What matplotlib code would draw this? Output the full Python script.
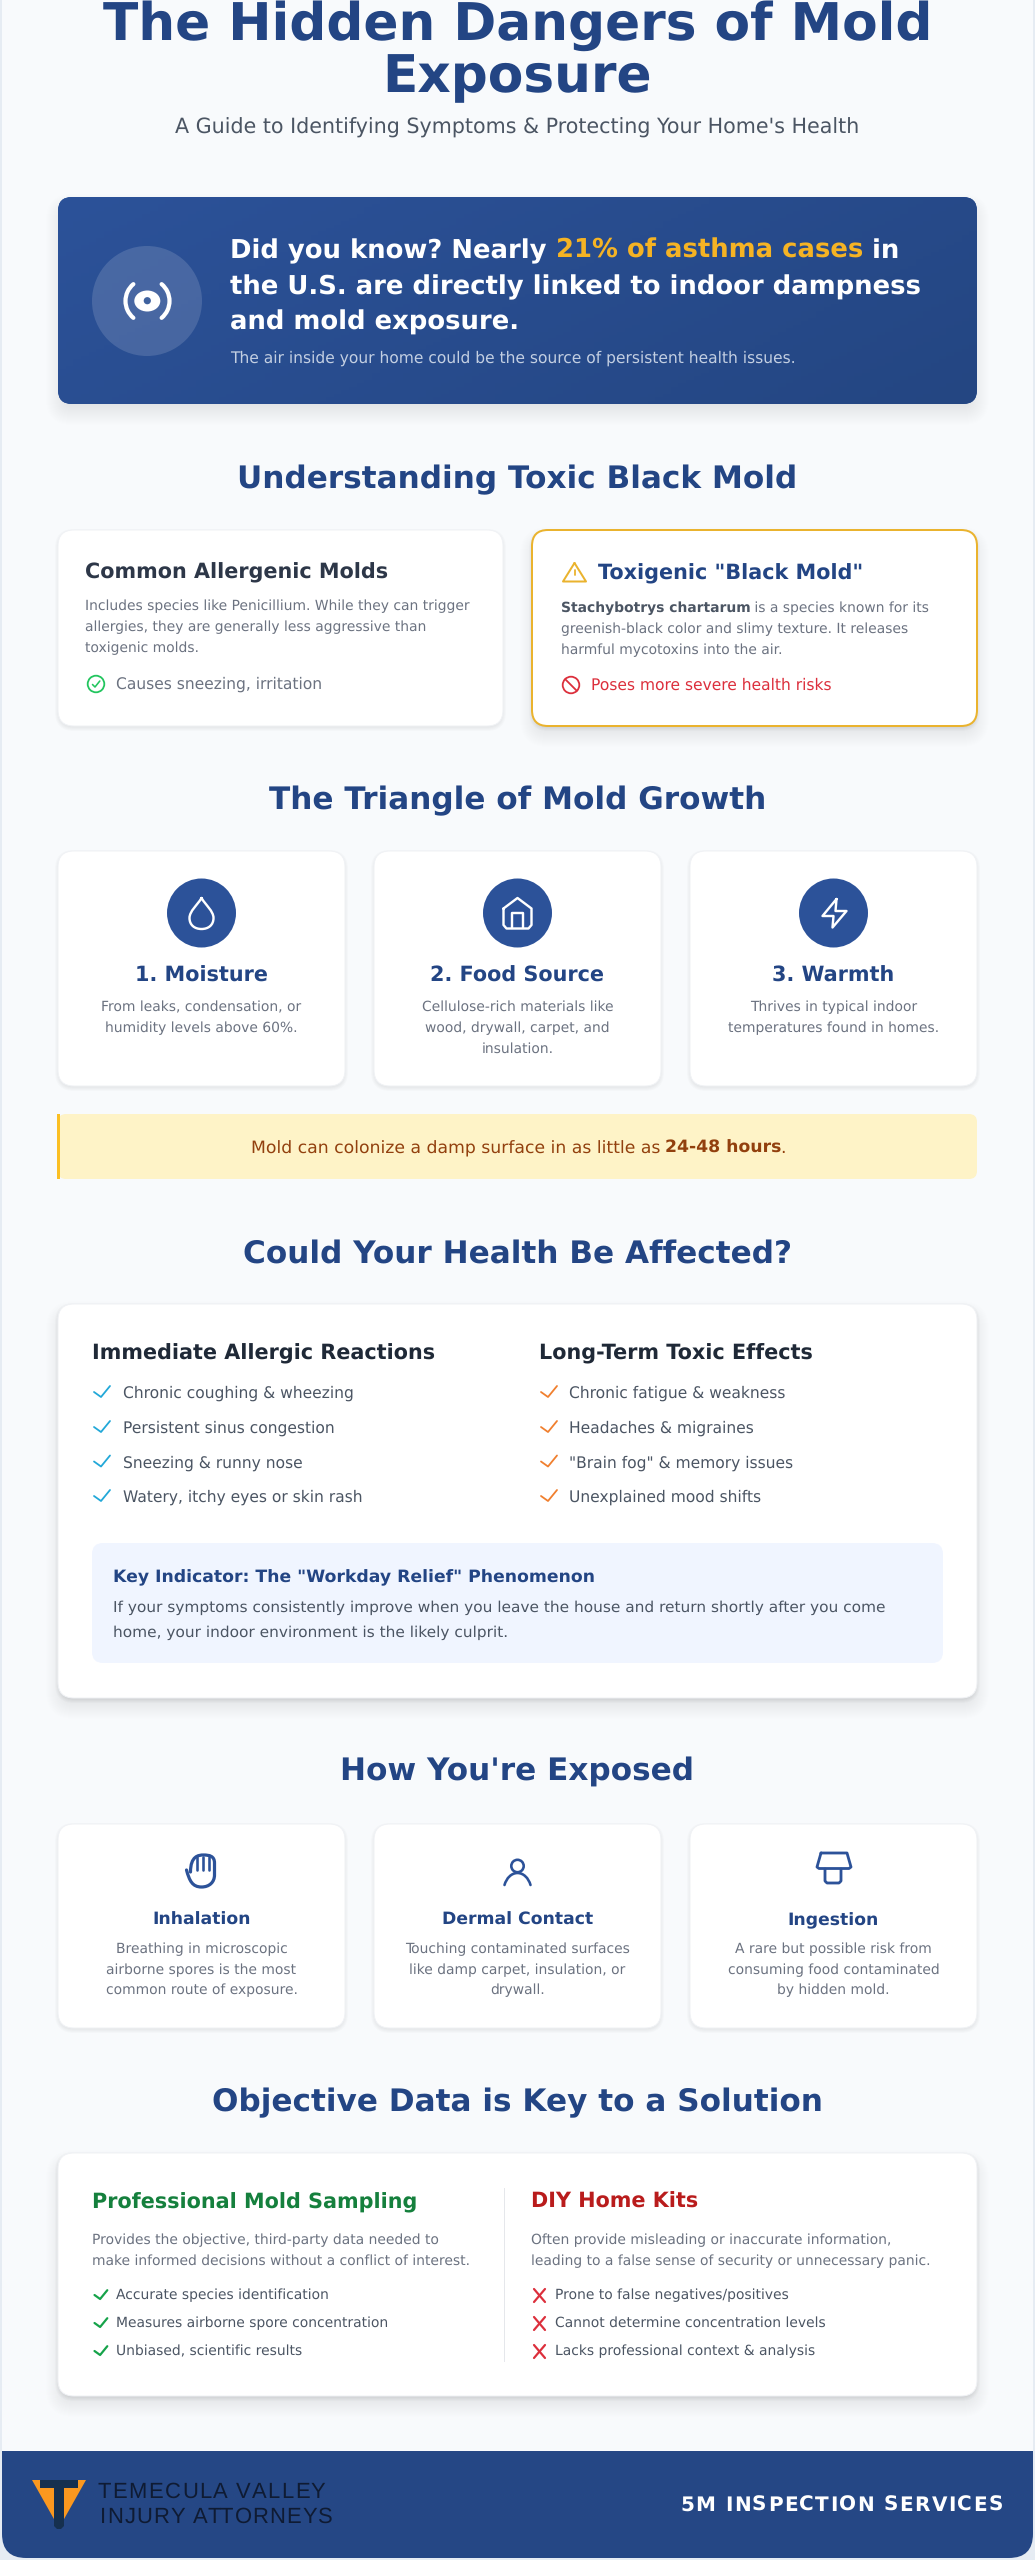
import matplotlib
matplotlib.use('Agg')
import matplotlib.pyplot as plt
import numpy as np
from matplotlib.patches import FancyBboxPatch, Circle, Ellipse, Rectangle, PathPatch, Polygon, Arc
from matplotlib.path import Path
from matplotlib.colors import LinearSegmentedColormap
from matplotlib.font_manager import FontProperties
from matplotlib.textpath import TextPath

W = 1035
H = 2560

NAVY = '#234584'
BLUE = '#2c5299'
GREY = '#6b7280'
SLATE = '#4b5563'
GOLD = '#eab32e'
RED = '#dc2f3c'
GREEN = '#16a34a'

title_lines = ['The Hidden Dangers of Mold', 'Exposure']
subtitle = "A Guide to Identifying Symptoms & Protecting Your Home's Health"
banner_lines = [
    [('Did you know? Nearly ', 'white'), ('21% of asthma cases', '#f5b324'), (' in', 'white')],
    [('the U.S. are directly linked to indoor dampness', 'white')],
    [('and mold exposure.', 'white')],
]
banner_sub = 'The air inside your home could be the source of persistent health issues.'
section_titles = ['Understanding Toxic Black Mold', 'The Triangle of Mold Growth',
                  'Could Your Health Be Affected?', "How You're Exposed",
                  'Objective Data is Key to a Solution']
allergenic_title = 'Common Allergenic Molds'
allergenic_body = ['Includes species like Penicillium. While they can trigger',
                   'allergies, they are generally less aggressive than',
                   'toxigenic molds.']
allergenic_note = 'Causes sneezing, irritation'
toxic_title = 'Toxigenic "Black Mold"'
toxic_body = ['greenish-black color and slimy texture. It releases',
              'harmful mycotoxins into the air.']
toxic_note = 'Poses more severe health risks'
triangle_titles = ['1. Moisture', '2. Food Source', '3. Warmth']
triangle_desc = [['From leaks, condensation, or', 'humidity levels above 60%.'],
                 ['Cellulose-rich materials like', 'wood, drywall, carpet, and', 'insulation.'],
                 ['Thrives in typical indoor', 'temperatures found in homes.']]
health_heads = ['Immediate Allergic Reactions', 'Long-Term Toxic Effects']
health_lists = [['Chronic coughing & wheezing', 'Persistent sinus congestion',
                 'Sneezing & runny nose', 'Watery, itchy eyes or skin rash'],
                ['Chronic fatigue & weakness', 'Headaches & migraines',
                 '"Brain fog" & memory issues', 'Unexplained mood shifts']]
key_title = 'Key Indicator: The "Workday Relief" Phenomenon'
key_body = ['If your symptoms consistently improve when you leave the house and return shortly after you come',
            'home, your indoor environment is the likely culprit.']
exposure_titles = ['Inhalation', 'Dermal Contact', 'Ingestion']
exposure_desc = [['Breathing in microscopic', 'airborne spores is the most', 'common route of exposure.'],
                 ['Touching contaminated surfaces', 'like damp carpet, insulation, or', 'drywall.'],
                 ['A rare but possible risk from', 'consuming food contaminated', 'by hidden mold.']]
compare_heads = ['Professional Mold Sampling', 'DIY Home Kits']
compare_desc = [['Provides the objective, third-party data needed to',
                 'make informed decisions without a conflict of interest.'],
                ['Often provide misleading or inaccurate information,',
                 'leading to a false sense of security or unnecessary panic.']]
compare_lists = [['Accurate species identification', 'Measures airborne spore concentration',
                  'Unbiased, scientific results'],
                 ['Prone to false negatives/positives', 'Cannot determine concentration levels',
                  'Lacks professional context & analysis']]
logo_lines = ['TEMECULA VALLEY', 'INJURY ATTORNEYS']
footer_right = '5M INSPECTION SERVICES'

plt.rcParams['font.family'] = ['DejaVu Sans']
plt.rcParams['text.hinting'] = 'no_hinting'
plt.rcParams['text.hinting_factor'] = 8

fig = plt.figure(figsize=(W / 100, H / 100), dpi=100, facecolor='#e6ecf3')
ax = fig.add_axes([0, 0, 1, 1])
ax.set_xlim(0, W)
ax.set_ylim(H, 0)
ax.axis('off')

SECTION = 31.1
BODY = 13.85
CARD_HEAD = 20.75


def px(v):
    # css pixels to points
    return v * 0.72


def box(x0, y0, x1, y1, r, fc='white', ec='none', lw=0, z=2, alpha=None):
    p = FancyBboxPatch((x0, y0), x1 - x0, y1 - y0, boxstyle='round,pad=0,rounding_size=%g' % r,
                       fc=fc, ec=ec, lw=px(lw), zorder=z, alpha=alpha)
    ax.add_patch(p)
    return p


def shadow(x0, y0, x1, y1, r, dy, blur, alpha):
    n = int(blur)
    for i in range(n):
        g = blur / 2 - i
        box(x0 - g, y0 - g + dy, x1 + g, y1 + g + dy, max(r + g, 1), fc='black', z=1, alpha=alpha / n)


def card(x0, y0, x1, y1, r=16, big=False, ec='#f0f2f5', lw=1):
    if big:
        shadow(x0, y0, x1, y1, r, 9, 24, 0.07)
    shadow(x0, y0, x1, y1, r, 2, 6, 0.09)
    return box(x0, y0, x1, y1, r, ec=ec, lw=lw)


def txt(x, y, s, size, color, weight='normal', ha='left', family=None):
    return ax.text(x, y, s, fontsize=px(size), color=color, fontweight=weight, ha=ha, va='baseline',
                   zorder=6, family=family)


def width(s, size, weight='normal', family=None):
    # the bar keeps trailing spaces in the measure and does not kern
    fp = FontProperties(family=family or 'DejaVu Sans', weight=weight)
    a = TextPath((0, 0), s + '|', size=size, prop=fp).get_extents().x1
    b = TextPath((0, 0), '|', size=size, prop=fp).get_extents().x1
    return a - b


def spaced(x, y, s, size, color, sp, weight='normal', family=None):
    for i, ch in enumerate(s):
        txt(x + width(s[:i], size, weight, family) + i * sp, y, ch, size, color, weight, family=family)


def line(xs, ys, color, lw, z=6):
    ax.plot(xs, ys, color=color, lw=px(lw), zorder=z, solid_capstyle='round', solid_joinstyle='round')


def check(x, y, color, lw=1.8, s=1.0):
    # x,y is the left end of the tick
    line([x, x + 7 * s, x + 16 * s], [y + 5 * s, y + 10 * s, y - 1 * s], color, lw)


def curve(verts, codes, color, lw, fc='none'):
    ax.add_patch(PathPatch(Path(verts, codes), fc=fc, ec=color, lw=px(lw), zorder=6,
                           capstyle='round', joinstyle='round'))


M, L, C4, Z = Path.MOVETO, Path.LINETO, Path.CURVE4, Path.CLOSEPOLY

# page
box(2, -40, 1033, 2558, 24, fc='#f8fafc', z=0)

# header
for s, y in zip(title_lines, [40, 92]):
    txt(517.5, y, s, 51.8, NAVY, 'bold', 'center')
txt(517.5, 134, subtitle, 20.7, SLATE, ha='center')

# banner
shadow(58, 197, 977, 404, 14, 9, 24, 0.09)
b = box(58, 197, 977, 404, 14, fc=BLUE)
gx, gy = np.meshgrid(np.linspace(0, 1, 120), np.linspace(0, 1, 60))
cm = LinearSegmentedColormap.from_list('g', ['#2c5299', '#244682'])
im = ax.imshow(gx * 0.7 + gy * 0.3, extent=(58, 977, 404, 197), cmap=cm, aspect='auto', zorder=3,
               vmin=0, vmax=1)
im.set_clip_path(b)
ax.set_xlim(0, W)
ax.set_ylim(H, 0)
ax.add_patch(Circle((147, 301), 55, fc='white', alpha=0.14, ec='none', zorder=4))
ax.add_patch(Ellipse((147.3, 301), 26, 21, fc='white', ec='none', zorder=6))
ax.add_patch(Circle((147.3, 300.7), 3.6, fc='#3f629f', ec='none', zorder=7))
for a0, a1 in [(130, 230), (-50, 50)]:
    ax.add_patch(Arc((147.5, 301), 44, 44, theta1=a0, theta2=a1, ec='white', lw=px(4.2), zorder=6,
                     capstyle='round'))
for parts, y in zip(banner_lines, [258, 294, 330]):
    x = 230
    for s, col in parts:
        txt(x, y, s, 25.9, col, 'bold')
        x += width(s, 25.9, 'bold')
txt(230, 363, banner_sub, 15.5, '#c3cfe2')

# understanding section
txt(517.5, 488, section_titles[0], SECTION, NAVY, 'bold', 'center')
card(58, 530, 503, 726)
txt(85, 578, allergenic_title, CARD_HEAD, '#2d3748', 'bold')
for s, y in zip(allergenic_body, [610, 631, 652]):
    txt(85, y, s, BODY, GREY)
ax.add_patch(Circle((96, 684), 8.3, fc='none', ec='#22c55e', lw=px(1.8), zorder=6))
line([92.5, 95, 99.8], [684.5, 687, 681], '#22c55e', 1.6)
txt(116, 689, allergenic_note, 15.55, GREY)

shadow(532, 530, 977, 726, 16, 9, 24, 0.07)
card(532, 530, 977, 726, ec=GOLD, lw=2)
line([574.5, 586, 563, 574.5], [563, 581.5, 581.5, 563], GOLD, 2)
line([574.5, 574.5], [569.5, 574.5], GOLD, 1.8)
line([574.5, 574.6], [578, 578], GOLD, 1.8)
txt(598, 579, toxic_title, CARD_HEAD, NAVY, 'bold')
txt(561, 612, 'Stachybotrys chartarum', BODY, SLATE, 'bold')
txt(561 + width('Stachybotrys chartarum', BODY, 'bold'), 612, ' is a species known for its', BODY, GREY)
for s, y in zip(toxic_body, [633, 654]):
    txt(561, y, s, BODY, GREY)
ax.add_patch(Circle((571, 685), 8.3, fc='none', ec=RED, lw=px(1.8), zorder=6))
line([565.2, 576.8], [679.2, 690.8], RED, 1.8)
txt(591, 690, toxic_note, 15.55, RED)

# triangle section
txt(517.5, 809, section_titles[1], SECTION, NAVY, 'bold', 'center')
col_x = [(58, 345), (374, 661), (690, 977)]
col_c = [201.5, 517.5, 833.5]
for (x0, x1), c, t, d in zip(col_x, col_c, triangle_titles, triangle_desc):
    card(x0, 851, x1, 1086)
    ax.add_patch(Circle((c, 913), 34.5, fc=BLUE, ec='none', zorder=4))
    txt(c, 982, t, CARD_HEAD, NAVY, 'bold', 'center')
    for s, y in zip(d, [1011, 1032, 1053]):
        txt(c, y, s, BODY, GREY, ha='center')

# drop
c = col_c[0]
curve([(c, 898), (c - 4, 905), (c - 12, 911), (c - 12, 918), (c - 12, 925), (c - 7, 929), (c, 929),
       (c + 7, 929), (c + 12, 925), (c + 12, 918), (c + 12, 911), (c + 4, 905), (c, 898)],
      [M, C4, C4, C4, C4, C4, C4, C4, C4, C4, C4, C4, C4], 'white', 2.4)
# house
c = col_c[1]
curve([(c - 14, 908.5), (c, 898), (c + 14, 908.5), (c + 14, 925), (c + 11, 928.5), (c - 11, 928.5), (c - 14, 925), (c - 14, 908.5)],
      [M, L, L, L, L, L, L, L], 'white', 2.4)
line([c - 5.5, c - 5.5, c + 5.5, c + 5.5], [928, 913, 913, 928], 'white', 2.4)
# bolt
c = col_c[2] + 1
curve([(c + 2, 899), (c - 12, 916), (c - 1, 916), (c - 2, 927.5), (c + 12, 911), (c + 1, 911), (c + 2, 899)],
      [M, L, L, L, L, L, L], 'white', 2.4)

# yellow note
n = box(58, 1114, 977, 1179, 8, fc='#fef3c7', z=2)
ax.add_patch(Rectangle((57, 1114), 3, 65, fc='#fbbf24', ec='none', zorder=3))
x = 251
for s, w_ in [('Mold can colonize a damp surface in as little as ', 'normal'), ('24-48 hours', 'bold'), ('.', 'normal')]:
    txt(x, 1153, s, 17.2, '#92400e', w_)
    x += width(s, 17.2, w_)

# health section
txt(517.5, 1263, section_titles[2], SECTION, NAVY, 'bold', 'center')
card(58, 1304, 977, 1698, big=True)
for hx, lx, ix, colr, head, items in zip([92, 539], [123, 569], [94, 541], ['#22a8d8', '#f07f2e'], health_heads, health_lists):
    txt(hx, 1359, head, CARD_HEAD, '#1f2937', 'bold')
    for s, y in zip(items, [1398, 1433, 1467.5, 1502]):
        check(ix, y - 11, colr)
        txt(lx, y, s, 15.5, SLATE)
box(92, 1543, 943, 1663, 11, fc='#f0f5ff', z=3)
txt(113, 1582, key_title, 17.3, NAVY, 'bold')
for s, y in zip(key_body, [1612, 1637]):
    txt(113, y, s, 15.45, SLATE)

# exposure section
txt(517.5, 1781, section_titles[3], SECTION, NAVY, 'bold', 'center')
for (x0, x1), c, t, d in zip(col_x, col_c, exposure_titles, exposure_desc):
    card(x0, 1824, x1, 2028)
    txt(c, 1925, t, 17.3, NAVY, 'bold', 'center')
    for s, y in zip(d, [1953, 1974, 1994]):
        txt(c, y, s, BODY, GREY, ha='center')

# hand
c = col_c[0]
curve([(c - 11, 1872), (c - 11, 1856), (c - 3, 1855), (c + 2, 1855), (c + 8, 1855), (c + 13, 1856), (c + 13, 1863),
       (c + 13, 1875), (c + 13, 1882), (c + 8, 1887), (c, 1887), (c - 9, 1887), (c - 12, 1881), (c - 15, 1870)],
      [M, C4, C4, C4, C4, C4, C4, L, C4, C4, C4, C4, C4, C4], BLUE, 3.2)
for dx in [-5, 1, 7]:
    line([c + dx, c + dx], [1857, 1870], BLUE, 2.6)
# person
c = col_c[1]
ax.add_patch(Circle((c, 1866), 6.2, fc='none', ec=BLUE, lw=px(2.6), zorder=6))
curve([(c - 13, 1885), (c - 11, 1878), (c - 6, 1873), (c, 1873), (c + 6, 1873), (c + 11, 1878), (c + 13, 1885)],
      [M, C4, C4, C4, C4, C4, C4], BLUE, 2.6)
# cup
c = col_c[2] + 0.5
curve([(c - 13, 1853), (c + 13, 1853), (c + 17, 1867), (c + 15, 1868.5), (c - 15, 1868.5), (c - 17, 1867), (c - 13, 1853)],
      [M, L, L, L, L, L, L], BLUE, 2.8)
line([c - 9, c - 9, c - 7, c + 5, c + 7, c + 7], [1869, 1881, 1883, 1883, 1881, 1869], BLUE, 2.8)

# objective section
txt(517.5, 2111, section_titles[4], SECTION, NAVY, 'bold', 'center')
card(58, 2153, 977, 2396, big=True)
ax.plot([503.5, 503.5], [2188, 2361], color='#e5e7eb', lw=px(1), zorder=5)
list_y = [2299, 2327, 2355]
for hx, lx, colr, head, d, items in zip([92, 531], [116, 555], ['#15803d', '#b91c1c'], compare_heads, compare_desc, compare_lists):
    txt(hx, 2208, head, CARD_HEAD, colr, 'bold')
    for s, y in zip(d, [2244, 2265]):
        txt(hx, y, s, BODY, GREY)
    for s, y in zip(items, list_y):
        txt(lx, y, s, BODY, SLATE)
for y in list_y:
    check(94.5, y - 8, GREEN, lw=2.2, s=0.8)
    line([534, 545], [y - 10, y + 3], RED, 2.2)
    line([545, 534], [y - 10, y + 3], RED, 2.2)

# footer
clip = Rectangle((0, 2451), W, 120, transform=ax.transData)
f = box(2, 2380, 1033, 2558, 24, fc='#254785', z=3)
f.set_clip_path(clip)
ax.add_patch(Polygon([(32, 2480), (86, 2480), (59, 2528)], fc='#fb981f', ec='none', zorder=5))
ax.add_patch(Polygon([(40, 2480), (78, 2480), (78, 2488), (64, 2488), (64, 2526), (61, 2529), (57, 2529), (54, 2526), (54, 2488), (40, 2488)],
                     fc='#16304f', ec='none', zorder=6))
spaced(97, 2498, logo_lines[0], 22, '#0f1b33', 1.6, family='Liberation Sans')
spaced(100, 2523, logo_lines[1], 22, '#0f1b33', 1.1, family='Liberation Sans')
spaced(680, 2511, footer_right, 20, 'white', 1.4, 'bold')

fig.savefig('out.png', dpi=100, facecolor=fig.get_facecolor())
